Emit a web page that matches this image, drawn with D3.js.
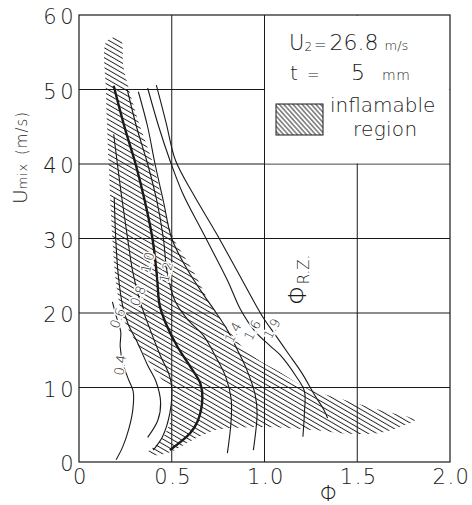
<!DOCTYPE html>
<html>
<head>
<meta charset="utf-8">
<script src="https://cdn.jsdelivr.net/npm/d3@7"></script>
<style>
  body { margin: 0; background: #fff; }
  svg { display: block; }
</style>
</head>
<body>
<svg width="472" height="505"></svg>
<script>
// axis ticks
const xTicks = [0, 0.5, 1.0, 1.5, 2.0]
const xTickLabels = ["0", "0.5", "1.0", "1.5", "2.0"]
const yTicks = [0, 10, 20, 30, 40, 50, 60]
const yTickLabels = ["0", "10", "20", "30", "40", "50", "60"]
const gridX = [0.5, 1.0, 1.5]
const gridY = [10, 20, 30, 40, 50]

// inflamable region outline [phi, Umix]
const region = [
  [0.145, 56.3], [0.19, 57], [0.225, 56.8], [0.24, 53], [0.27, 50], [0.33, 45], [0.4, 40],
  [0.46, 34], [0.51, 30], [0.57, 27.5], [0.63, 25], [0.69, 22], [0.74, 20], [0.8, 18],
  [0.86, 16], [0.95, 14], [1.08, 12.1], [1.22, 10], [1.45, 8.2], [1.65, 6.8], [1.81, 5.6],
  [1.74, 4.8], [1.62, 3.9], [1.45, 3.8], [1.3, 4.2], [1.1, 4.6], [0.99, 4.7], [0.85, 4.6],
  [0.74, 4.3], [0.6, 2.8], [0.5, 1.4], [0.42, 0.9], [0.37, 1.2], [0.42, 2.4], [0.46, 3.6],
  [0.49, 5.3], [0.5, 7.8], [0.5, 9.8], [0.45, 11], [0.4, 12.6], [0.33, 15.2], [0.28, 17.2],
  [0.235, 19.5], [0.2, 24], [0.18, 30], [0.16, 40], [0.145, 50]
]

// constant phi_R.Z. curves [phi, Umix]
const phi04 = [[0.18, 21.5], [0.205, 19.2], [0.225, 17.5], [0.222, 15.5], [0.237, 13.2], [0.268, 11], [0.292, 9.5], [0.29, 7], [0.267, 4.3], [0.235, 2], [0.2, 0.3]]
const phi06 = [[0.19, 35.5], [0.198, 30], [0.212, 25], [0.235, 21], [0.265, 18.5], [0.31, 16.3], [0.37, 13], [0.415, 10.8], [0.44, 8], [0.425, 5.6], [0.37, 3.3]]
const phi08 = [[0.187, 44], [0.225, 36.5], [0.262, 30], [0.29, 25.5], [0.33, 21.5], [0.38, 18], [0.44, 14.2], [0.485, 11.8], [0.5, 10], [0.49, 6.6], [0.45, 3.4], [0.4, 1.6]]
const phi10 = [[0.187, 50.5], [0.245, 45], [0.305, 40], [0.355, 35], [0.396, 30], [0.42, 25], [0.435, 21], [0.47, 18.5], [0.53, 15.5], [0.6, 12.8], [0.655, 10.5], [0.665, 8.5], [0.64, 5.5], [0.6, 3.9], [0.49, 1.6]]
const phi12 = [[0.26, 50], [0.31, 45], [0.37, 40], [0.42, 35], [0.455, 30], [0.475, 25.5], [0.52, 21.5], [0.59, 19], [0.67, 17], [0.74, 14], [0.79, 11.5], [0.82, 8.5], [0.82, 5.5], [0.8, 1.2]]
const phi14 = [[0.32, 49.7], [0.37, 45], [0.41, 40], [0.455, 35], [0.5, 30], [0.58, 26], [0.67, 22.5], [0.74, 20], [0.8, 17.7], [0.855, 15], [0.906, 12.3], [0.95, 9], [0.96, 6.5], [0.94, 1.6]]
const phi16 = [[0.37, 50.2], [0.43, 45], [0.49, 40.5], [0.56, 36], [0.67, 30.7], [0.8, 24.4], [0.87, 20.5], [0.95, 17.5], [1.03, 15.6], [1.083, 14.4], [1.17, 11.5], [1.215, 9.5], [1.215, 6.5], [1.207, 3.4]]
const phi19 = [[0.417, 50.6], [0.47, 45.5], [0.52, 40.5], [0.615, 36], [0.74, 30.7], [0.88, 24.4], [0.99, 19.5], [1.06, 17], [1.13, 14.5], [1.2, 12], [1.27, 9], [1.32, 7], [1.34, 5.9]]

const curves = [phi04, phi06, phi08, phi10, phi12, phi14, phi16, phi19]
const curveNames = ["0.4", "0.6", "0.8", "1.0", "1.2", "1.4", "1.6", "1.9"]
// where each curve carries its label [phi, Umix]
const labelAt = [[0.222, 13], [0.208, 19.3], [0.318, 22.3], [0.37, 26.8], [0.47, 25.5], [0.83, 17.4], [0.935, 17.7], [1.04, 17.9]]
const labelTilt = [-82, -68, -68, -76, -76, -62, -62, -62]

const svg = d3.select("svg")
const font = "'DejaVu Sans', Lato, sans-serif"
const ink = "#1a1a1a"

const x = d3.scaleLinear().domain([0, 2]).range([79, 450])
const y = d3.scaleLinear().domain([0, 60]).range([462, 15])

const defs = svg.append("defs")
defs.append("pattern")
    .attr("id", "hatch")
    .attr("patternUnits", "userSpaceOnUse")
    .attr("width", 8).attr("height", 4.3)
    .attr("patternTransform", "rotate(30)")
  .append("line")
    .attr("x1", 0).attr("x2", 8).attr("y1", 2.1).attr("y2", 2.1)
    .attr("stroke", ink).attr("stroke-width", 0.9)
defs.append("pattern")
    .attr("id", "hatchKey")
    .attr("patternUnits", "userSpaceOnUse")
    .attr("width", 8).attr("height", 3.4)
    .attr("patternTransform", "rotate(48)")
  .append("line")
    .attr("x1", 0).attr("x2", 8).attr("y1", 1.7).attr("y2", 1.7)
    .attr("stroke", ink).attr("stroke-width", 0.9)

// grid
const grid = svg.append("g").attr("stroke", ink).attr("stroke-width", 1)
grid.selectAll("line.gx").data(gridX).enter().append("line")
    .attr("x1", d => x(d)).attr("x2", d => x(d))
    .attr("y1", y(0)).attr("y2", y(60))
grid.selectAll("line.gy").data(gridY).enter().append("line")
    .attr("x1", x(0)).attr("x2", x(2))
    .attr("y1", d => y(d)).attr("y2", d => y(d))

// blank area behind the key
svg.append("rect")
    .attr("x", x(1.0) + 0.6).attr("y", y(60) + 0.6)
    .attr("width", x(2) - x(1.0) - 1.2).attr("height", y(40) - y(60) - 1.2)
    .attr("fill", "#fff")

// frame
svg.append("rect")
    .attr("x", x(0)).attr("y", y(60))
    .attr("width", x(2) - x(0)).attr("height", y(0) - y(60))
    .attr("fill", "none").attr("stroke", ink).attr("stroke-width", 1.2)

// region
const area = d3.line().x(d => x(d[0])).y(d => y(d[1])).curve(d3.curveCatmullRomClosed)
svg.append("path")
    .attr("d", area(region))
    .attr("fill", "url(#hatch)")
    .attr("stroke", "none")

// curves
const line = d3.line().x(d => x(d[0])).y(d => y(d[1])).curve(d3.curveCatmullRom)
svg.append("g").selectAll("path")
  .data(curves)
  .enter()
  .append("path")
    .attr("d", line)
    .attr("fill", "none")
    .attr("stroke", ink)
    .attr("stroke-width", (d, i) => curveNames[i] == "1.0" ? 2.4 : 1.1)

svg.append("g").selectAll("text")
  .data(curveNames)
  .enter()
  .append("text")
    .attr("transform", (d, i) => `translate(${x(labelAt[i][0])},${y(labelAt[i][1])}) rotate(${labelTilt[i]})`)
    .attr("text-anchor", "middle")
    .attr("dy", "0.35em")
    .attr("font-family", font).attr("font-weight", 300)
    .attr("font-size", 13)
    .attr("fill", ink)
    .attr("stroke", "#fff").attr("stroke-width", 3).attr("paint-order", "stroke")
    .text(d => d)

// tick labels
svg.append("g").selectAll("text")
  .data(xTicks)
  .enter()
  .append("text")
    .attr("x", d => x(d) + 1.5)
    .attr("y", 484)
    .attr("text-anchor", "middle")
    .attr("font-family", font).attr("font-weight", 200)
    .attr("font-size", 21).attr("letter-spacing", 1.5)
    .attr("fill", ink)
    .text((d, i) => xTickLabels[i])

svg.append("g").selectAll("text")
  .data(yTicks)
  .enter()
  .append("text")
    .attr("x", 77)
    .attr("y", d => y(d) + 9)
    .attr("text-anchor", "end")
    .attr("font-family", font).attr("font-weight", 200)
    .attr("font-size", 21).attr("letter-spacing", 3.5)
    .attr("fill", ink)
    .text((d, i) => yTickLabels[i])

// axis titles
svg.append("text")
    .attr("x", 329).attr("y", 501)
    .attr("text-anchor", "middle")
    .attr("font-family", font).attr("font-weight", 200)
    .attr("font-size", 22).attr("fill", ink)
    .text("Φ")

const yTitle = svg.append("text")
    .attr("transform", "translate(27,204) rotate(-90)")
    .attr("font-family", font).attr("font-weight", 200)
    .attr("fill", ink)
yTitle.append("tspan").attr("font-size", 20).text("U")
yTitle.append("tspan").attr("font-size", 13).attr("letter-spacing", 0.8).text("mix")
yTitle.append("tspan").attr("font-size", 15).attr("letter-spacing", 1).attr("dx", 8).text("(m/s)")

const rz = svg.append("text")
    .attr("transform", "translate(306,305) rotate(-90)")
    .attr("font-family", font).attr("font-weight", 200)
    .attr("fill", ink)
rz.append("tspan").attr("font-size", 24).text("Φ")
rz.append("tspan").attr("font-size", 15).attr("dy", 3).text("R.Z.")

// key
const key = svg.append("g").attr("font-family", font).attr("font-weight", 200).attr("fill", ink)
const k1 = key.append("text").attr("x", 289).attr("y", 50)
k1.append("tspan").attr("font-size", 21).text("U")
k1.append("tspan").attr("font-size", 12).attr("dy", 1).text("2")
k1.append("tspan").attr("font-size", 15).attr("dx", 2).attr("dy", -1).text("=")
k1.append("tspan").attr("font-size", 22).attr("dx", 3).text("26.8")
k1.append("tspan").attr("font-size", 13).attr("dx", 6).text("m/s")

const k2 = key.append("text").attr("y", 80)
k2.append("tspan").attr("x", 290).attr("font-size", 20).text("t")
k2.append("tspan").attr("x", 307).attr("font-size", 15).text("=")
k2.append("tspan").attr("x", 351).attr("font-size", 22).text("5")
k2.append("tspan").attr("x", 382).attr("font-size", 14).attr("letter-spacing", 0.5).text("mm")

key.append("rect")
    .attr("x", 276).attr("y", 104).attr("width", 47).attr("height", 31)
    .attr("fill", "url(#hatchKey)").attr("stroke", ink).attr("stroke-width", 1)
key.append("text").attr("x", 330).attr("y", 112)
    .attr("font-size", 20).text("inflamable")
key.append("text").attr("x", 353).attr("y", 136)
    .attr("font-size", 20).attr("letter-spacing", 0.3).text("region")
</script>
</body>
</html>
